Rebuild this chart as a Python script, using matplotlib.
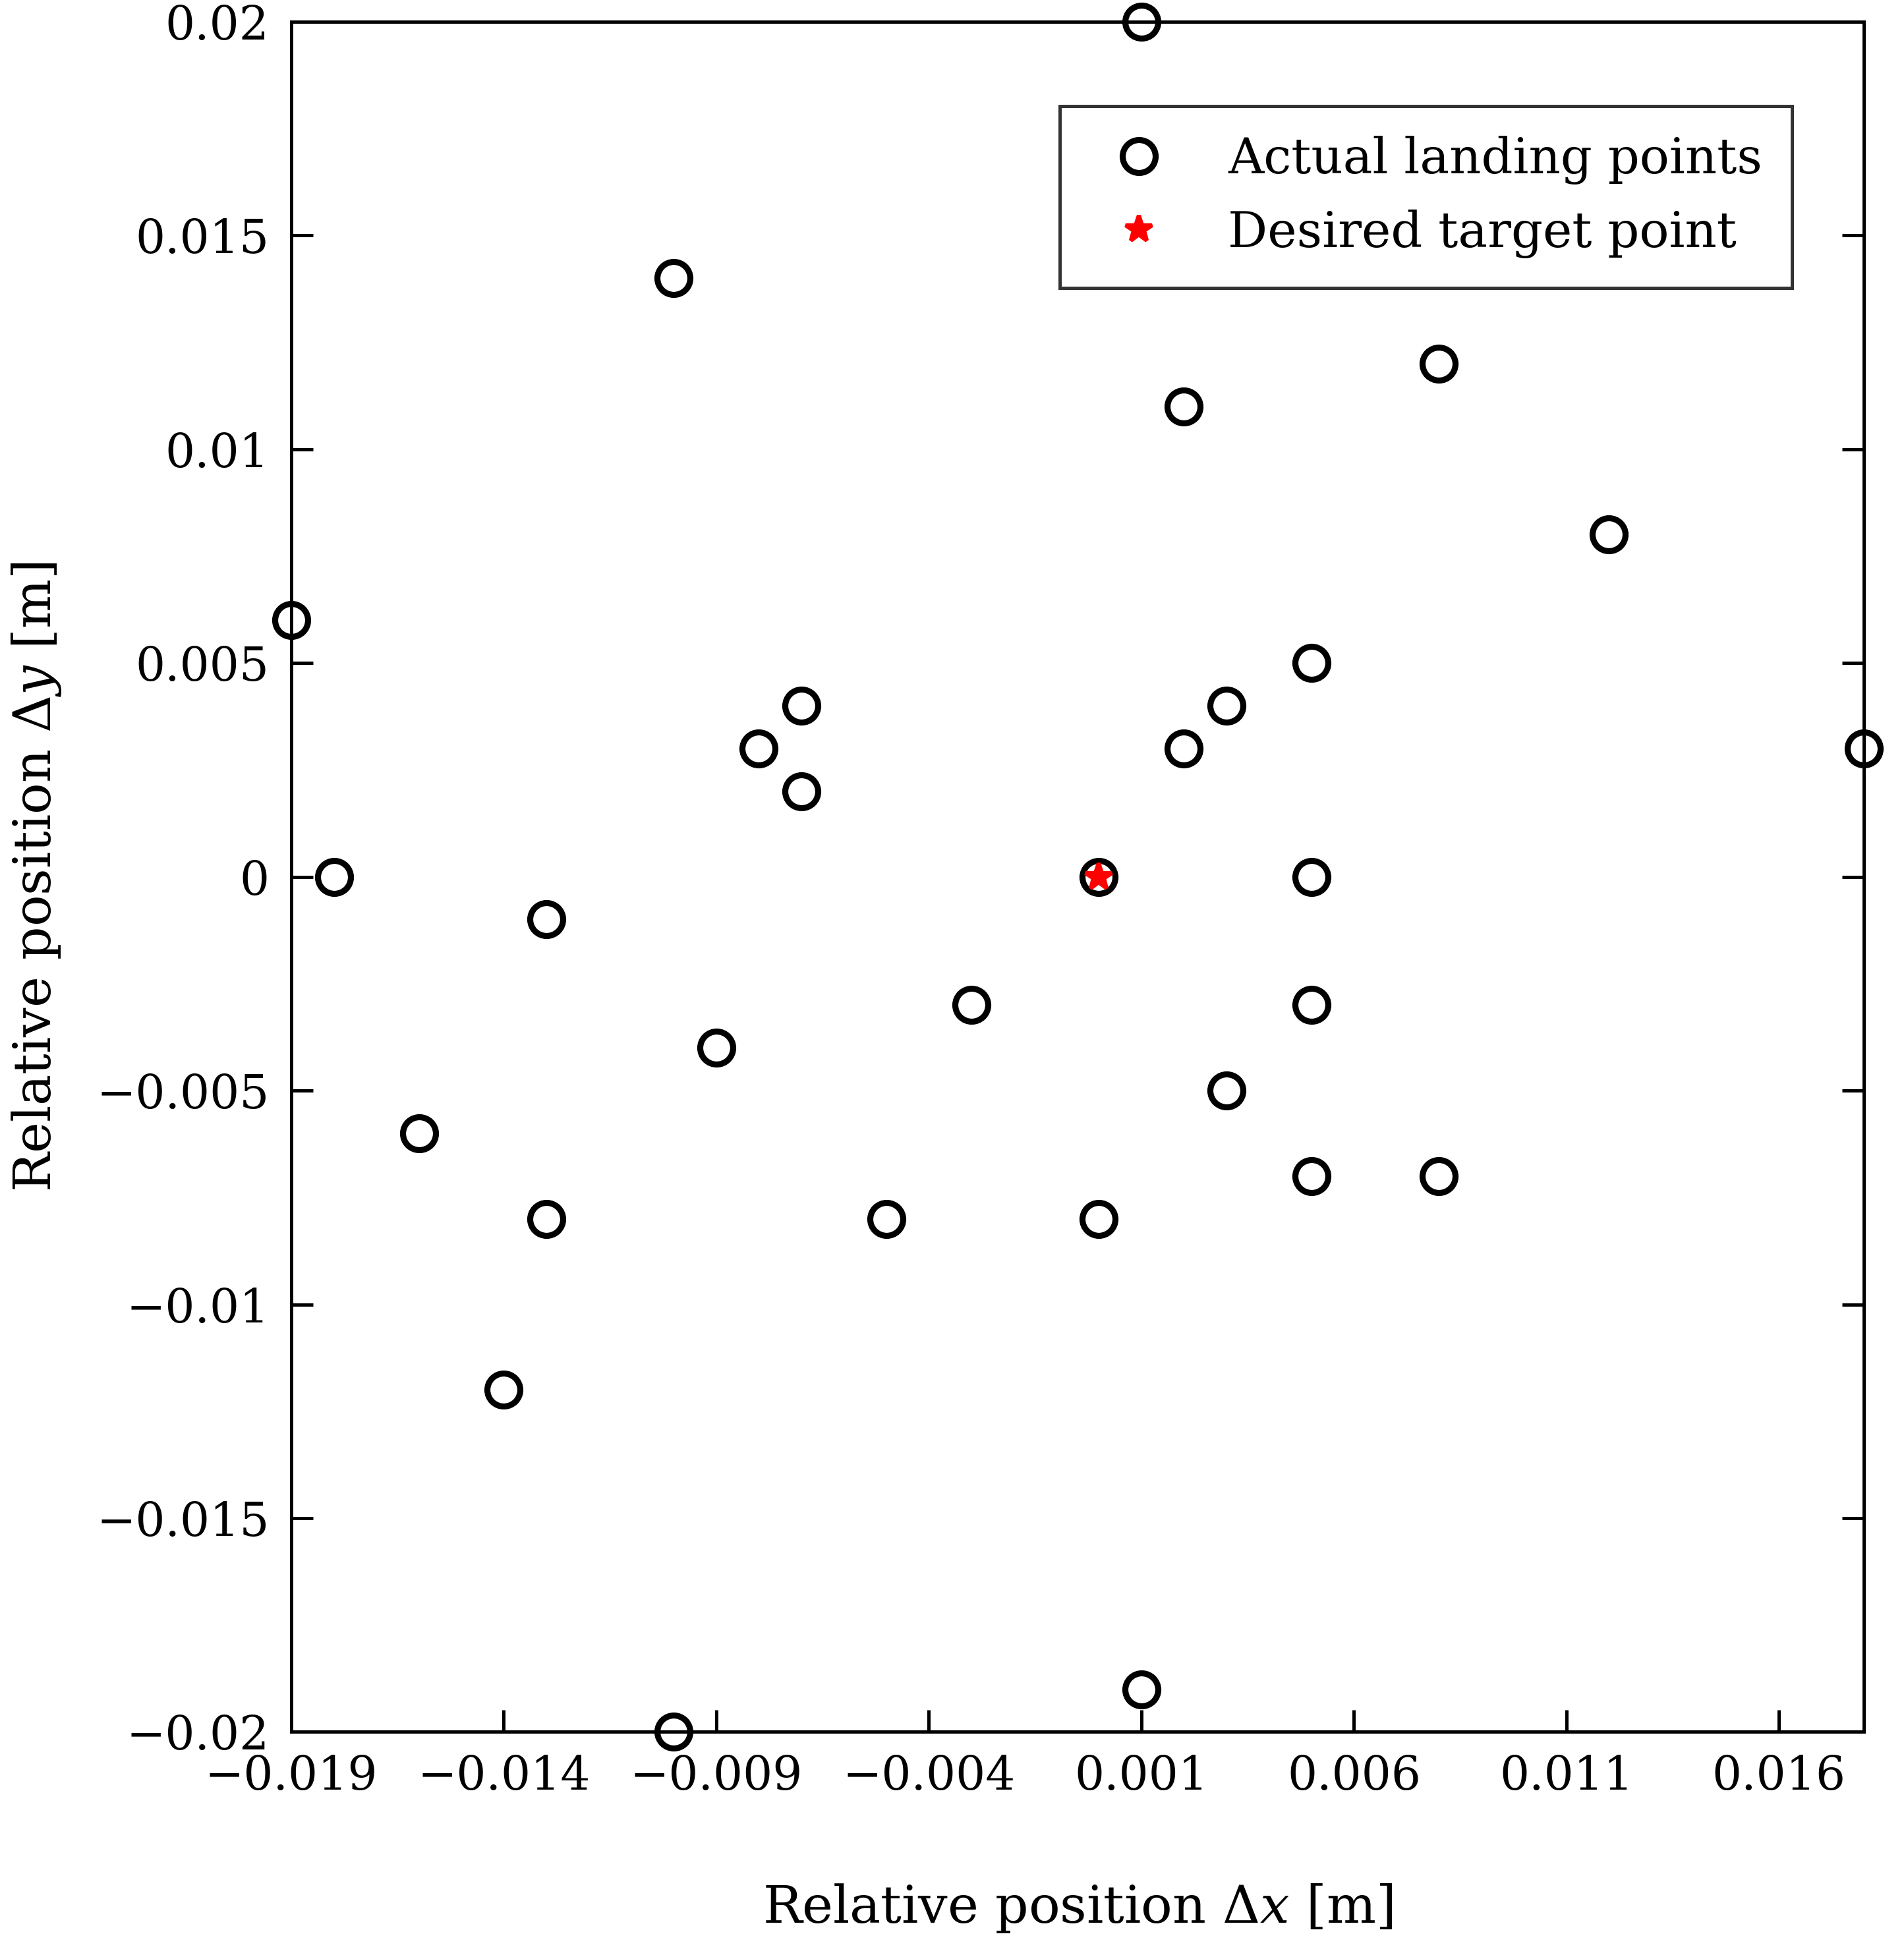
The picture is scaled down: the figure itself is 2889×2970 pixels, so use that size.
import matplotlib.pyplot as plt
import numpy as np
from matplotlib.ticker import FuncFormatter

# landing points
dx = [0.001, -0.010, 0.002, 0.008, 0.012, -0.019, 0.005, -0.007, -0.008, -0.007,
      0.003, 0.002, 0.018, -0.018, 0.000, 0.005, -0.013, -0.003, 0.005, -0.009,
      0.003, -0.016, -0.013, -0.005, 0.000, 0.005, 0.008, -0.014, 0.001, -0.010]
dy = [0.020, 0.014, 0.011, 0.012, 0.008, 0.006, 0.005, 0.004, 0.003, 0.002,
      0.004, 0.003, 0.003, 0.000, 0.000, 0.000, -0.001, -0.003, -0.003, -0.004,
      -0.005, -0.006, -0.008, -0.008, -0.008, -0.007, -0.007, -0.012, -0.019, -0.020]
target_x = [0.0]
target_y = [0.0]

plt.rcParams['font.family'] = ['DejaVu Serif']
plt.rcParams['mathtext.fontset'] = 'dejavuserif'

fig = plt.figure(figsize=(9.63, 9.9), dpi=300)
ax = fig.add_axes([0.153, 0.115, 0.826, 0.874])

ax.plot(dx, dy, 'o', mfc='none', mec='black', ms=12, mew=2.2, ls='none',
        label='Actual landing points', clip_on=False, zorder=3)
ax.plot(target_x, target_y, '*', color='red', ms=10, mew=1.5, ls='none',
        label='Desired target point', zorder=4)

ax.set_xlim(-0.019, 0.018)
ax.set_ylim(-0.02, 0.02)
ax.set_xticks(np.arange(-0.019, 0.0175, 0.005))
ax.set_yticks(np.arange(-0.02, 0.0201, 0.005))
fmt = FuncFormatter(lambda v, p: ('%g' % round(v, 4)).replace('-', '\u2212'))
ax.xaxis.set_major_formatter(fmt)
ax.yaxis.set_major_formatter(fmt)
ax.tick_params(direction='in', length=8, width=1.2, labelsize=17, right=True, top=False, pad=8)
for s in ax.spines.values():
    s.set_linewidth(1.2)

ax.set_xlabel(r'Relative position $\mathit{\Delta x}$ [m]', fontsize=19, labelpad=30)
ax.set_ylabel(r'Relative position $\mathit{\Delta y}$ [m]', fontsize=19, labelpad=12)

leg = ax.legend(loc='upper right', fontsize=18, frameon=True, fancybox=False,
                edgecolor='black', borderpad=0.6, bbox_to_anchor=(0.97, 0.965))
leg.get_frame().set_linewidth(1.2)

fig.savefig('out.png', dpi=300)
